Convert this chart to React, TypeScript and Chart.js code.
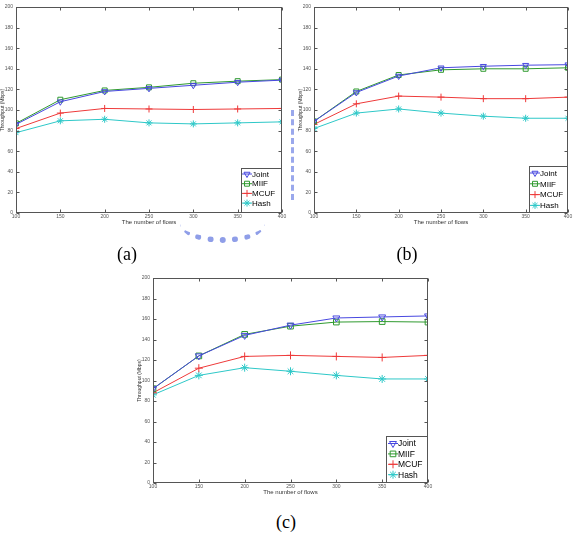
import React, { useEffect, useRef } from 'react';
import { Chart, registerables } from 'chart.js';
import { drawPoint } from 'chart.js/helpers';

Chart.register(...registerables);

// ---------- data ----------
const flows = [100, 150, 200, 250, 300, 350, 400];
const seriesNames = ['Joint', 'MIIF', 'MCUF', 'Hash'];

const jointA = [86, 108, 118, 121, 124, 127, 129];
const miifA = [87, 110, 119, 122, 126, 128, 129.5];
const mcufA = [82, 97, 101.5, 101, 100.5, 101, 101.5];
const hashA = [78, 89.5, 91, 87.5, 86.5, 87.5, 88.5];

const jointB = [89, 117, 133, 141, 142.5, 143.5, 144];
const miifB = [89, 118, 134, 139, 140, 140, 141];
const mcufB = [86, 106, 113.5, 112.5, 111, 111, 112.5];
const hashB = [82, 97, 101, 97, 94, 92, 92];

const jointC = [92, 124, 144, 154, 161, 162, 163];
const miifC = [92, 124, 145, 153, 157, 157.5, 157];
const mcufC = [88, 112, 123.5, 124.5, 123.5, 122.5, 124.5];
const hashC = [86, 105, 112.5, 109, 105, 101.5, 101.5];

const xTitle = 'The number of flows';
const yTitle = 'Throughput (Mbps)';

// ---------- styles ----------
const colors = ['#4848e0', '#2f9a2f', '#ee3a3a', '#2ec8c8'];
const pointStyles = ['triangle', 'rect', 'cross', 'star'];
const rotations = [180, 0, 0, 0];
const FONT = "'Liberation Sans', Arial, sans-serif";

const framePlugin = {
  id: 'frame',
  afterDatasetsDraw(chart: any) {
    const { ctx, chartArea: a, scales } = chart;
    ctx.save();
    ctx.strokeStyle = '#555';
    ctx.lineWidth = 1;
    const L = Math.round(a.left) + 0.5;
    const R = Math.round(a.right) - 0.5;
    const T = Math.round(a.top) + 0.5;
    const B = Math.round(a.bottom) - 0.5;
    ctx.strokeRect(L, T, R - L, B - T);
    const tl = 3;
    ctx.beginPath();
    scales.x.ticks.forEach((t: any) => {
      const px = Math.round(scales.x.getPixelForValue(t.value)) + 0.5;
      ctx.moveTo(px, B); ctx.lineTo(px, B - tl);
      ctx.moveTo(px, T); ctx.lineTo(px, T + tl);
    });
    scales.y.ticks.forEach((t: any) => {
      const py = Math.round(scales.y.getPixelForValue(t.value)) + 0.5;
      ctx.moveTo(L, py); ctx.lineTo(L + tl, py);
      ctx.moveTo(R, py); ctx.lineTo(R - tl, py);
    });
    ctx.stroke();
    ctx.restore();
  },
};

const legendPlugin = {
  id: 'boxLegend',
  afterDraw(chart: any, _args: any, opts: any) {
    const { ctx, chartArea: a } = chart;
    const w = opts.w, h = opts.h;
    const x0 = Math.round(a.right - w) + 0.5;
    const y0 = Math.round(a.bottom - h) + 0.5;
    ctx.save();
    ctx.fillStyle = '#ffffff';
    ctx.fillRect(x0, y0, w - 1, h - 1);
    ctx.strokeStyle = '#555';
    ctx.lineWidth = 1;
    ctx.strokeRect(x0, y0, w - 1, h - 1);
    chart.data.datasets.forEach((ds: any, i: number) => {
      const cy = y0 + opts.first + i * opts.row;
      const mx = x0 + opts.mx;
      ctx.strokeStyle = ds.borderColor;
      ctx.lineWidth = 1;
      ctx.beginPath();
      ctx.moveTo(mx - 5, cy);
      ctx.lineTo(mx + 5, cy);
      ctx.stroke();
      ctx.fillStyle = 'rgba(0,0,0,0)';
      drawPoint(ctx, {
        pointStyle: ds.pointStyle,
        rotation: ds.pointRotation || 0,
        radius: ds.pointRadius,
        borderWidth: 1,
      } as any, mx, cy);
      ctx.fillStyle = '#000';
      ctx.font = `${opts.font}px ${FONT}`;
      ctx.textBaseline = 'middle';
      ctx.textAlign = 'left';
      ctx.fillText(ds.label, x0 + opts.tx, cy + 0.5);
    });
    ctx.restore();
  },
};

type PanelCfg = {
  left: number; top: number; w: number; h: number;
  pad: { left: number; top: number; right: number; bottom: number };
  series: number[][];
  r: number;
  legend: { w: number; h: number; first: number; row: number; mx: number; tx: number; font: number };
};

const panels: PanelCfg[] = [
  {
    left: 0, top: 0, w: 290, h: 230,
    pad: { left: 0, top: 7, right: 8, bottom: 0 },
    series: [jointA, miifA, mcufA, hashA], r: 3.5,
    legend: { w: 41, h: 45, first: 5.5, row: 9.7, mx: 5.5, tx: 10.5, font: 8 },
  },
  {
    left: 290, top: 0, w: 284, h: 230,
    pad: { left: 8, top: 7, right: 6, bottom: 0 },
    series: [jointB, miifB, mcufB, hashB], r: 3.5,
    legend: { w: 39, h: 47, first: 6.5, row: 10.8, mx: 5.5, tx: 10.5, font: 8 },
  },
  {
    left: 130, top: 265, w: 310, h: 235,
    pad: { left: 7, top: 13, right: 12, bottom: 0 },
    series: [jointC, miifC, mcufC, hashC], r: 4,
    legend: { w: 42, h: 47, first: 7, row: 10.4, mx: 6.5, tx: 11.5, font: 8.5 },
  },
];

function Panel({ cfg }: { cfg: PanelCfg }) {
  const ref = useRef<HTMLCanvasElement>(null);
  useEffect(() => {
    const chart = new Chart(ref.current as HTMLCanvasElement, {
      type: 'line',
      data: {
        datasets: cfg.series.map((vals, i) => ({
          label: seriesNames[i],
          data: flows.map((x, j) => ({ x, y: vals[j] })),
          borderColor: colors[i],
          backgroundColor: 'rgba(0,0,0,0)',
          borderWidth: 1,
          pointStyle: pointStyles[i],
          pointRotation: rotations[i],
          pointRadius: cfg.r,
          pointBorderWidth: 1,
          pointBorderColor: colors[i],
          pointBackgroundColor: 'rgba(0,0,0,0)',
          tension: 0,
        })),
      } as any,
      options: {
        responsive: false,
        animation: false,
        layout: { padding: cfg.pad },
        plugins: {
          legend: { display: false },
          tooltip: { enabled: false },
          boxLegend: cfg.legend,
        } as any,
        scales: {
          x: {
            type: 'linear',
            min: 100, max: 400,
            afterFit: (s: any) => { s.height = 17; },
            ticks: { stepSize: 50, color: '#555', font: { size: 5, family: FONT }, padding: 1, maxRotation: 0 },
            grid: { display: false, drawTicks: false },
            border: { display: false },
            title: { display: true, text: xTitle, color: '#333', font: { size: 6, family: FONT }, padding: { top: 0, bottom: 4 } },
          },
          y: {
            type: 'linear',
            min: 0, max: 200,
            afterFit: (s: any) => { s.width = 16; },
            ticks: { stepSize: 20, color: '#555', font: { size: 5, family: FONT }, padding: 3 },
            grid: { display: false, drawTicks: false },
            border: { display: false },
            title: { display: true, text: yTitle, color: '#333', font: { size: 5, family: FONT }, padding: { top: 0, bottom: 0 } },
          },
        },
      } as any,
      plugins: [framePlugin, legendPlugin],
    });
    return () => chart.destroy();
  }, []);
  return (
    <canvas
      ref={ref}
      width={cfg.w}
      height={cfg.h}
      style={{ position: 'absolute', left: cfg.left, top: cfg.top, width: cfg.w, height: cfg.h }}
    />
  );
}

const labelStyle = (x: number, y: number): React.CSSProperties => ({
  position: 'absolute', left: x - 20, top: y - 11, width: 40, textAlign: 'center',
  fontFamily: "'Liberation Serif', 'Times New Roman', serif", fontSize: 18, lineHeight: '22px', color: '#000',
});

export default function App() {
  return (
    <div style={{ position: 'absolute', left: 0, top: 0, width: 574, height: 538, background: '#fff', overflow: 'hidden' }}>
      {panels.map((p, i) => <Panel key={i} cfg={p} />)}
      {/* faint watermark remnants */}
      <div style={{ position: 'absolute', left: 291, top: 110, width: 0, height: 90, borderLeft: '3px dashed #9aa8ec' }} />
      <div style={{ position: 'absolute', left: 180, top: 205, width: 85, height: 32, borderBottom: '6px dotted #8f9ee8', borderRadius: '50%' }} />
      <div style={labelStyle(127, 254)}>(a)</div>
      <div style={labelStyle(407, 254)}>(b)</div>
      <div style={labelStyle(286, 522)}>(c)</div>
    </div>
  );
}
